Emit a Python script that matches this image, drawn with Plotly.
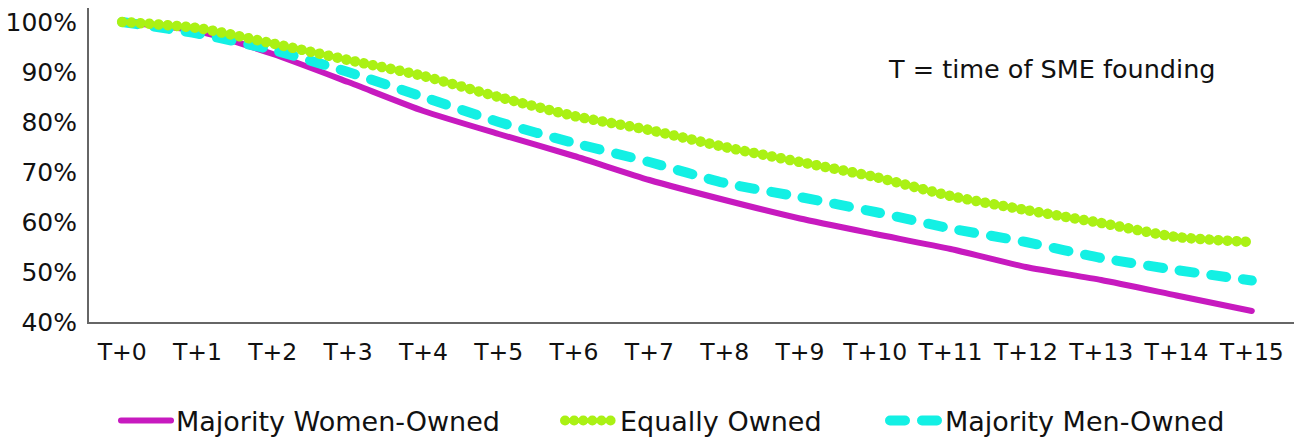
import plotly.graph_objects as go

# Survival share of SMEs by ownership, years after founding
periods = [f"T+{i}" for i in range(16)]
women_owned = [100, 98.2, 93.6, 88.0, 82.2, 77.6, 73.2, 68.4, 64.4, 60.7, 57.6, 54.6, 51.0, 48.4, 45.3, 42.2]
equally_owned = [100, 98.8, 95.7, 92.4, 89.2, 85.0, 81.2, 78.4, 75.0, 72.0, 69.0, 65.2, 62.4, 59.8, 57.0, 56.0]
men_owned = [100, 97.7, 94.4, 90.0, 85.0, 80.0, 75.8, 72.0, 67.8, 65.0, 62.0, 58.7, 56.0, 52.8, 50.4, 48.3]

y_ticks = [40, 50, 60, 70, 80, 90, 100]
y_tick_labels = ["40%", "50%", "60%", "70%", "80%", "90%", "100%"]

MAGENTA = "#C71ABF"
GREEN = "#AAF114"
CYAN = "#13F0E4"
FONT = "DejaVu Sans"
W, H = 1294, 439

fig = go.Figure()

fig.add_trace(go.Scatter(
    x=periods, y=women_owned, name="Majority Women-Owned", mode="lines",
    line=dict(color=MAGENTA, width=6, shape="spline", smoothing=0.6),
    legend="legend",
))
fig.add_trace(go.Scatter(
    x=periods, y=men_owned, name="Majority Men-Owned", mode="lines",
    line=dict(color=CYAN, width=10, shape="spline", smoothing=0.6, dash="15px,17px"),
    legend="legend3",
))
fig.add_trace(go.Scatter(
    x=periods, y=equally_owned, name="Equally Owned", mode="lines",
    line=dict(color=GREEN, width=10.5, shape="spline", smoothing=0.6, dash="0.1px,9px"),
    legend="legend2",
))

# Three single-entry legends laid out in a row under the axis
legend_common = dict(
    orientation="h", xref="container", yref="container", xanchor="left", yanchor="middle",
    y=1 - 421 / H, font=dict(family=FONT, size=27, color="#111111"),
    bgcolor="rgba(0,0,0,0)", itemwidth=50, tracegroupgap=0,
)

fig.update_layout(
    width=W, height=H,
    margin=dict(l=89, r=0, t=8, b=117, autoexpand=False),
    paper_bgcolor="white", plot_bgcolor="white",
    font=dict(family=FONT, size=24, color="#111111"),
    showlegend=True,
    legend=dict(legend_common, x=116 / W),
    legend2=dict(legend_common, x=560 / W),
    legend3=dict(legend_common, x=885 / W),
    xaxis=dict(
        type="category", range=[-0.44, 15.56],
        showline=True, linecolor="#666666", linewidth=2,
        showgrid=False, zeroline=False, ticks="",
        tickfont=dict(family=FONT, size=23.5, color="#111111"),
        ticklabelstandoff=8,
    ),
    yaxis=dict(
        range=[40, 102.8], tickvals=y_ticks, ticktext=y_tick_labels,
        showline=True, linecolor="#666666", linewidth=2,
        showgrid=False, zeroline=False, ticks="",
        tickfont=dict(family=FONT, size=25, color="#111111"),
        ticklabelstandoff=5,
    ),
    annotations=[dict(
        text="T = time of SME founding", xref="paper", yref="paper",
        x=(1051 - 89) / 1205, y=(322 - 69) / 314, xanchor="center", yanchor="middle",
        showarrow=False, font=dict(family=FONT, size=25.5, color="#111111"),
    )],
)

# Round line caps give the chained-dot and pill-dash look
round_caps = """
var s = document.createElement('style');
s.textContent = '.js-line{stroke-linecap:round !important;}';
document.head.appendChild(s);
"""

fig.write_html("out.html", post_script=round_caps)
